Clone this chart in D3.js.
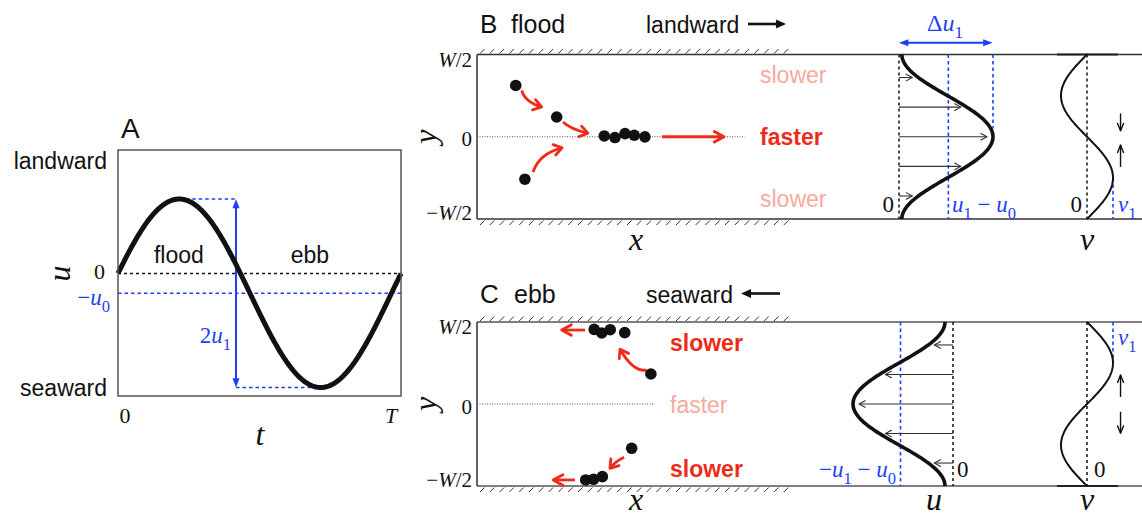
<!DOCTYPE html>
<html>
<head>
<meta charset="utf-8">
<script src="https://cdn.jsdelivr.net/npm/d3@7"></script>
<style>
  body { margin: 0; background: #fff; }
</style>
</head>
<body>
<svg id="fig" width="1142" height="521"></svg>
<script>
// ---- panel A: tidal velocity over one period ----
const tideU0 = 0.21;            // residual (seaward) flow
const tideU1 = 1;               // tidal amplitude
const tideTicks = ["0", "T"];
const tideWords = ["flood", "ebb"];
const rangeMarkT = 0.417;       // where the 2u1 arrow is drawn

// ---- panels B / C: particles (x in % of wall length, y in units of W) ----
const floodDots = [[12.3, 0.312], [25.3, 0.12], [15.2, -0.258], [40.4, 0.005], [43.8, -0.005], [47.0, 0.019], [49.9, 0.009], [53.3, -0.001]];
const ebbDots = [[37.2, 0.455], [39.6, 0.433], [42.3, 0.453], [46.9, 0.435], [55.2, 0.183], [49.1, -0.27], [39.8, -0.443], [37.0, -0.459], [34.5, -0.463]];
const floodArrows = [
  {from: [14.2, 0.282], ctrl: [15.2, 0.211], to: [20.5, 0.181]},
  {from: [27.3, 0.090], ctrl: [29.6, 0.048], to: [35.2, 0.021]},
  {from: [17.8, -0.215], ctrl: [19.7, -0.103], to: [27.0, -0.068]},
  {from: [58.7, 0], to: [78.4, 0]}
];
const ebbArrows = [
  {from: [34.3, 0.451], to: [26.9, 0.451]},
  {from: [53.9, 0.207], ctrl: [49.6, 0.193], to: [45.4, 0.334]},
  {from: [46.7, -0.325], ctrl: [44.1, -0.348], to: [42.2, -0.392]},
  {from: [31.1, -0.463], to: [24.2, -0.463]}
];
const yTickVals = [0.5, 0, -0.5];
const profileLevels = [0.36, 0.18, 0, -0.18, -0.36];
const uWallFlood = 0.03, uWallEbb = 0.08;
const uMeanMark = 0.525;        // u1 - u0 line, fraction of Δu1
const floodCross = [[0.142, 0.036], [-0.183, -0.05]];   // small v arrows
const ebbCross = [[0.043, 0.177], [-0.047, -0.179]];
const floodSpeed = [{t: "slower", y: 0.373}, {t: "faster", y: 0, strong: true}, {t: "slower", y: -0.38}];
const ebbSpeed = [{t: "slower", y: 0.374, strong: true}, {t: "faster", y: -0.006}, {t: "slower", y: -0.394, strong: true}];

const BLUE = "#1f3ff5", RED = "#ee2b1b", PINK = "#f8a99f", INK = "#111";
const SANS = '"Liberation Sans", Arial, Helvetica, sans-serif';
const SERIF = '"Liberation Serif", "Times New Roman", serif';

const svg = d3.select("#fig");

function head(g, tip, from, o) {
  const a = Math.atan2(tip[1] - from[1], tip[0] - from[0]);
  const p1 = [tip[0] - o.len * Math.cos(a - o.half), tip[1] - o.len * Math.sin(a - o.half)];
  const p2 = [tip[0] - o.len * Math.cos(a + o.half), tip[1] - o.len * Math.sin(a + o.half)];
  if (o.fill) {
    g.append("path").attr("d", "M" + p1 + "L" + tip + "L" + p2 + "Z").attr("fill", o.color);
  } else {
    g.append("path").attr("d", "M" + p1 + "L" + tip + "L" + p2)
      .attr("fill", "none").attr("stroke", o.color).attr("stroke-width", o.width)
      .attr("stroke-linecap", "round").attr("stroke-linejoin", "round");
  }
}

// straight arrow, filled head(s) sit at the line end
function arrow(g, p0, p1, o) {
  const a = Math.atan2(p1[1] - p0[1], p1[0] - p0[0]);
  const cut = o.fill ? o.len * Math.cos(o.half) * 0.9 : 0;
  const e = [p1[0] - cut * Math.cos(a), p1[1] - cut * Math.sin(a)];
  const s = o.both ? [p0[0] + cut * Math.cos(a), p0[1] + cut * Math.sin(a)] : p0;
  g.append("line").attr("x1", s[0]).attr("y1", s[1]).attr("x2", e[0]).attr("y2", e[1])
    .attr("stroke", o.color).attr("stroke-width", o.width);
  head(g, p1, p0, o);
  if (o.both) head(g, p0, p1, o);
}

function math(g, x, y, parts, o) {
  const t = g.append("text").attr("x", x).attr("y", y)
    .attr("font-family", SERIF).attr("font-size", o.size)
    .attr("fill", o.color || INK).attr("text-anchor", o.anchor || "start");
  let shift = 0;
  parts.forEach(function(p) {
    const s = t.append("tspan").text(p.t);
    if (p.i) s.attr("font-style", "italic");
    const want = p.sub ? o.size * 0.3 : 0;
    if (want !== shift) { s.attr("dy", want - shift); shift = want; }
    if (p.sub) s.attr("font-size", o.size * 0.72);
  });
  return t;
}

function word(g, x, y, txt, o) {
  return g.append("text").attr("x", x).attr("y", y).text(txt)
    .attr("font-family", SANS).attr("font-size", o.size || 23)
    .attr("font-weight", o.bold ? "bold" : "normal")
    .attr("fill", o.color || INK).attr("text-anchor", o.anchor || "start");
}

// ================= panel A =================
const A = svg.append("g");
const ax = d3.scaleLinear().domain([0, 1]).range([118, 401]);
const ay = d3.scaleLinear().domain([-1.3, 1.31]).range([396, 150]);
const phase = Math.asin(tideU0 / tideU1);
const tide = d3.range(0, 1.0001, 0.004).map(t => [t, tideU1 * Math.sin(2 * Math.PI * t + phase) - tideU0]);
const tPeak = (Math.PI / 2 - phase) / (2 * Math.PI);
const tTrough = tPeak + 0.5;

A.append("line").attr("x1", ax(0)).attr("x2", ax(1)).attr("y1", ay(0)).attr("y2", ay(0))
  .attr("stroke", INK).attr("stroke-width", 1.5).attr("stroke-dasharray", "3,3");
A.append("line").attr("x1", ax(0)).attr("x2", ax(1)).attr("y1", ay(-tideU0)).attr("y2", ay(-tideU0))
  .attr("stroke", BLUE).attr("stroke-width", 1.6).attr("stroke-dasharray", "3.5,3");
A.append("line").attr("x1", ax(tPeak)).attr("x2", ax(rangeMarkT))
  .attr("y1", ay(tideU1 - tideU0)).attr("y2", ay(tideU1 - tideU0))
  .attr("stroke", BLUE).attr("stroke-width", 1.6).attr("stroke-dasharray", "3.5,3");
A.append("line").attr("x1", ax(rangeMarkT)).attr("x2", ax(tTrough))
  .attr("y1", ay(-tideU1 - tideU0)).attr("y2", ay(-tideU1 - tideU0))
  .attr("stroke", BLUE).attr("stroke-width", 1.6).attr("stroke-dasharray", "3.5,3");
arrow(A, [ax(rangeMarkT), ay(-tideU1 - tideU0)], [ax(rangeMarkT), ay(tideU1 - tideU0)],
  {color: BLUE, width: 2, len: 10, half: 0.36, fill: true, both: true});

A.append("path").datum(tide)
  .attr("d", d3.line().x(d => ax(d[0])).y(d => ay(d[1])))
  .attr("fill", "none").attr("stroke", INK).attr("stroke-width", 5);

A.append("rect").attr("x", ax(0)).attr("y", ay(1.31))
  .attr("width", ax(1) - ax(0)).attr("height", ay(-1.3) - ay(1.31))
  .attr("fill", "none").attr("stroke", "#555").attr("stroke-width", 1.5);

word(A, 121, 138, "A", {size: 28});
word(A, 107, 169, "landward", {anchor: "end"});
word(A, 107, 396, "seaward", {anchor: "end"});
word(A, ax(0.127), 263, tideWords[0], {});
word(A, ax(0.61), 263, tideWords[1], {});
math(A, 105, ay(0) + 6, [{t: "0"}], {size: 22, anchor: "end"});
math(A, 110, ay(-tideU0) + 12, [{t: "−"}, {t: "u", i: true}, {t: "0", sub: true}], {size: 23, color: BLUE, anchor: "end"});
math(A, ax(rangeMarkT) - 5, 343, [{t: "2"}, {t: "u", i: true}, {t: "1", sub: true}], {size: 23, color: BLUE, anchor: "end"});
math(A, ax(0) + 7, 423, [{t: tideTicks[0]}], {size: 22, anchor: "middle"});
math(A, ax(1) - 10, 423, [{t: tideTicks[1], i: true}], {size: 22, anchor: "middle"});
math(A, 260, 445, [{t: "t", i: true}], {size: 32, anchor: "middle"});
math(A, 0, 0, [{t: "u", i: true}], {size: 32, anchor: "middle"})
  .attr("transform", "translate(70," + ay(0) + ") rotate(-90)").attr("x", 0).attr("y", 0);

// ================= panels B and C =================
const bx = d3.scaleLinear().domain([0, 100]).range([477, 792]);

function channel(cfg) {
  const g = svg.append("g");
  const y = d3.scaleLinear().domain([-0.5, 0.5]).range([cfg.bottom, cfg.top]);
  const uS = d3.scaleLinear().domain([0, 1]).range(cfg.uRange);
  const vS = d3.scaleLinear().domain([-1, 1]).range([1061, 1113]);

  // walls
  [0.5, -0.5].forEach(function(w) {
    g.append("line").attr("x1", bx(0)).attr("x2", 1142).attr("y1", y(w)).attr("y2", y(w))
      .attr("stroke", cfg.wallColor).attr("stroke-width", 1.5);
    g.selectAll(null).data(d3.range(bx(0) + 3, bx(100), 9.8)).enter().append("line")
      .attr("x1", d => d).attr("x2", d => d + 4.5)
      .attr("y1", d => w > 0 ? y(w) - 1 : y(w) + 6)
      .attr("y2", d => w > 0 ? y(w) - 5.5 : y(w) + 1.5)
      .attr("stroke", "#333").attr("stroke-width", 1);
  });
  g.append("line").attr("x1", bx(0)).attr("x2", bx(0)).attr("y1", y(0.5)).attr("y2", y(-0.5))
    .attr("stroke", "#333").attr("stroke-width", 1.5);
  g.append("line").attr("x1", vS(-1) - 4).attr("x2", vS(1) + 5)
    .attr("y1", y(cfg.vBar)).attr("y2", y(cfg.vBar)).attr("stroke", "#222").attr("stroke-width", 2);

  // centreline
  g.append("line").attr("x1", bx(0)).attr("x2", bx(cfg.centreEnd)).attr("y1", y(0)).attr("y2", y(0))
    .attr("stroke", "#555").attr("stroke-width", 1).attr("stroke-dasharray", "1,1.5");

  // ticks
  yTickVals.forEach(function(v) {
    const off = v > 0 ? 12 : v < 0 ? 1 : 9.5;
    math(g, 472, y(v) + off, v < 0 ? [{t: "−"}, {t: "W", i: true}, {t: "/2"}] :
      (v > 0 ? [{t: "W", i: true}, {t: "/2"}] : [{t: "0"}]), {size: 21, anchor: "end"});
  });
  math(g, 0, 0, [{t: "y", i: true}], {size: 32, anchor: "middle"})
    .attr("transform", "translate(436," + y(0) + ") rotate(-90)");
  math(g, bx(50.5), cfg.labelY, [{t: "x", i: true}], {size: 32, anchor: "middle"});

  // header
  word(g, 480, cfg.headY, cfg.letter, {size: 26});
  word(g, cfg.phaseX, cfg.headY, cfg.phase, {size: 25});
  word(g, 646, cfg.headY, cfg.dirWord, {});
  arrow(g, cfg.dirArrow[0], cfg.dirArrow[1], {color: INK, width: 2.6, len: 11, half: 0.42, fill: true});

  // particle paths
  cfg.arrows.forEach(function(a) {
    const p0 = [bx(a.from[0]), y(a.from[1])], p1 = [bx(a.to[0]), y(a.to[1])];
    if (a.ctrl) {
      const c = [bx(a.ctrl[0]), y(a.ctrl[1])];
      g.append("path").attr("d", "M" + p0 + "Q" + c + " " + p1)
        .attr("fill", "none").attr("stroke", RED).attr("stroke-width", 2.8);
      head(g, p1, c, {color: RED, width: 2.8, len: 9.5, half: 0.6});
    } else {
      arrow(g, p0, p1, {color: RED, width: 2.8, len: 11, half: 0.5});
    }
  });
  g.selectAll(null).data(cfg.dots).enter().append("circle")
    .attr("cx", d => bx(d[0])).attr("cy", d => y(d[1])).attr("r", 5.8).attr("fill", INK);

  // speed words
  cfg.speed.forEach(function(s) {
    word(g, cfg.speedX, y(s.y) + 8, s.t, {bold: s.strong, color: s.strong ? RED : PINK});
  });

  // u profile
  const prof = d3.range(-0.5, 0.5001, 0.01).map(yy => [cfg.uWall + (1 - cfg.uWall) * Math.pow(Math.cos(Math.PI * yy), 2), yy]);
  g.append("line").attr("x1", uS(0)).attr("x2", uS(0)).attr("y1", y(0.5)).attr("y2", y(-0.5))
    .attr("stroke", INK).attr("stroke-width", 1.5).attr("stroke-dasharray", "3,3");
  g.append("line").attr("x1", uS(uMeanMark)).attr("x2", uS(uMeanMark)).attr("y1", y(0.5)).attr("y2", y(-0.5))
    .attr("stroke", BLUE).attr("stroke-width", 1.6).attr("stroke-dasharray", "3.5,3");
  const dir = Math.sign(cfg.uRange[1] - cfg.uRange[0]);
  profileLevels.forEach(function(l) {
    const val = cfg.uWall + (1 - cfg.uWall) * Math.pow(Math.cos(Math.PI * l), 2);
    arrow(g, [uS(0), y(l)], [uS(val) - dir * 6, y(l)], {color: "#333", width: 1.1, len: 7, half: 0.5});
  });
  g.append("path").datum(prof)
    .attr("d", d3.line().x(d => uS(d[0])).y(d => y(d[1])))
    .attr("fill", "none").attr("stroke", INK).attr("stroke-width", 3.6);

  // v profile
  const vprof = d3.range(-0.5, 0.5001, 0.01).map(yy => [cfg.vSign * Math.sin(2 * Math.PI * yy), yy]);
  g.append("line").attr("x1", vS(0)).attr("x2", vS(0)).attr("y1", y(0.5)).attr("y2", y(-0.5))
    .attr("stroke", INK).attr("stroke-width", 1.5).attr("stroke-dasharray", "3,3");
  g.append("line").attr("x1", vS(1)).attr("x2", vS(1)).attr("y1", y(cfg.v1Span[0])).attr("y2", y(cfg.v1Span[1]))
    .attr("stroke", BLUE).attr("stroke-width", 1.6).attr("stroke-dasharray", "3.5,3");
  g.append("path").datum(vprof)
    .attr("d", d3.line().x(d => vS(d[0])).y(d => y(d[1])))
    .attr("fill", "none").attr("stroke", INK).attr("stroke-width", 2);
  cfg.cross.forEach(function(c) {
    arrow(g, [vS(1.29), y(c[0])], [vS(1.29), y(c[1])], {color: INK, width: 1.4, len: 8, half: 0.38});
  });

  return {g: g, y: y, uS: uS, vS: vS};
}

// ---- B: flood ----
const B = channel({
  top: 54.5, bottom: 219, wallColor: "#333", vBar: 0.5,
  uRange: [899, 993], uWall: uWallFlood, vSign: -1, v1Span: [-0.25, -0.5],
  centreEnd: 85, letter: "B", phase: "flood", phaseX: 511, headY: 33,
  dirWord: "landward", dirArrow: [[748, 24], [786, 24]],
  arrows: floodArrows, dots: floodDots, cross: floodCross, labelY: 250,
  speedX: 760, speed: floodSpeed
});
arrow(B.g, [B.uS(0), 42.7], [B.uS(0.995), 42.7], {color: BLUE, width: 2, len: 10, half: 0.36, fill: true, both: true});
B.g.append("line").attr("x1", B.uS(1)).attr("x2", B.uS(1)).attr("y1", B.y(0.5)).attr("y2", B.y(0.05))
  .attr("stroke", BLUE).attr("stroke-width", 1.6).attr("stroke-dasharray", "3.5,3");
math(B.g, 945, 31, [{t: "Δ"}, {t: "u", i: true}, {t: "1", sub: true}], {size: 24, color: BLUE, anchor: "middle"});
math(B.g, 894, 212, [{t: "0"}], {size: 23, anchor: "end"});
math(B.g, 952, 212, [{t: "u", i: true}, {t: "1", sub: true}, {t: " − "}, {t: "u", i: true}, {t: "0", sub: true}], {size: 23, color: BLUE});
math(B.g, 1082, 212, [{t: "0"}], {size: 23, anchor: "end"});
math(B.g, 1118, 212, [{t: "v", i: true}, {t: "1", sub: true}], {size: 23, color: BLUE});
math(B.g, B.vS(0), 250, [{t: "v", i: true}], {size: 32, anchor: "middle"});

// ---- C: ebb ----
const C = channel({
  top: 322, bottom: 486, wallColor: "#555", vBar: -0.5,
  uRange: [953, 853], uWall: uWallEbb, vSign: 1, v1Span: [0.5, 0.25],
  centreEnd: 56.5, letter: "C", phase: "ebb", phaseX: 514, headY: 303,
  dirWord: "seaward", dirArrow: [[780, 293.5], [741, 293.5]],
  arrows: ebbArrows, dots: ebbDots, cross: ebbCross, labelY: 510,
  speedX: 670, speed: ebbSpeed
});
math(C.g, 896, 477, [{t: "−"}, {t: "u", i: true}, {t: "1", sub: true}, {t: " − "}, {t: "u", i: true}, {t: "0", sub: true}], {size: 23, color: BLUE, anchor: "end"});
math(C.g, 957, 477, [{t: "0"}], {size: 23});
math(C.g, 1094, 477, [{t: "0"}], {size: 23});
math(C.g, 1118, 345, [{t: "v", i: true}, {t: "1", sub: true}], {size: 23, color: BLUE});
math(C.g, 934, 510, [{t: "u", i: true}], {size: 32, anchor: "middle"});
math(C.g, C.vS(0), 510, [{t: "v", i: true}], {size: 32, anchor: "middle"});
</script>
</body>
</html>
